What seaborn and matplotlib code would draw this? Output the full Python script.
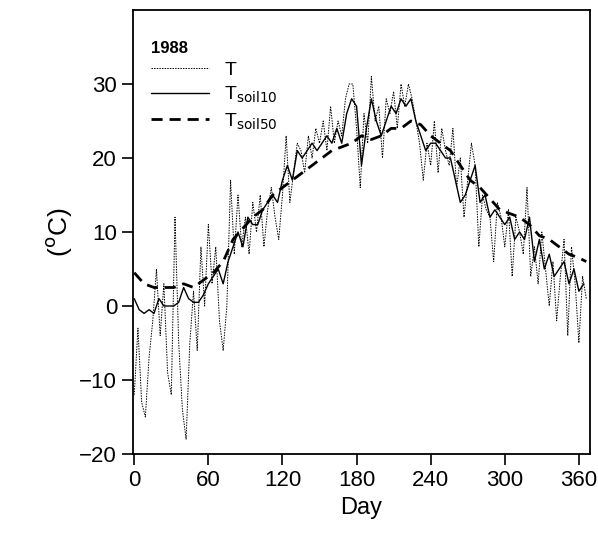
import numpy as np
import pandas as pd
import matplotlib
matplotlib.use('Agg')
import matplotlib.pyplot as plt
import seaborn as sns

# --- Data ---
day_air = list(range(0, 367, 3))
t_air = [-12, -3, -13, -15, -7, -2, 5, -4, 3, -9, -12, 12, -5, -14, -18, -5, 2, -6, 8, 0,
         11, 3, 8, -2, -6, 0, 17, 7, 15, 8, 12, 7, 14, 10, 15, 8, 13, 16, 12, 9,
         15, 23, 14, 18, 22, 21, 18, 23, 20, 24, 22, 25, 21, 27, 22, 25, 23, 28, 30, 30,
         24, 16, 26, 22, 31, 25, 27, 20, 28, 26, 29, 24, 30, 27, 30, 28, 25, 22, 17, 22,
         19, 25, 18, 24, 21, 19, 24, 16, 20, 12, 17, 22, 19, 8, 15, 13, 12, 6, 14, 12,
         8, 13, 4, 12, 10, 7, 16, 4, 8, 3, 10, 5, 0, 6, -2, 4, 9, -4, 8, 3,
         -5, 4, 1]

day_s10 = list(range(0, 365, 4))
t_soil10 = [1, -0.5, -1, -0.5, -1, 1, 0, 0, 0, 0.5, 2.5, 1, 0.5, 0.5, 1.5, 3, 4, 5, 3, 6,
            8, 10, 8, 12, 11, 11, 13, 14, 15, 14, 17, 19, 17, 21, 20, 21, 22, 21, 22, 23,
            22, 24, 22, 26, 28, 27, 19, 24, 28, 25, 23, 25, 27, 26, 28, 27, 28, 25, 23, 21,
            22, 22, 21, 20, 20, 17, 14, 15, 17, 19, 14, 15, 12, 13, 12, 11, 12, 9, 10, 9,
            12, 6, 9, 5, 7, 4, 5, 6, 3, 5, 2, 3]

day_s50 = list(range(0, 361, 8)) + [366]
t_soil50 = [4.5, 3, 2.5, 2.5, 2.5, 3, 2.5, 3.5, 4.5, 6, 9, 10.5, 12, 13, 15, 16, 17, 18, 19, 20,
            21, 21.5, 22, 23, 22.5, 23, 24, 24, 25, 24.5, 23, 22, 21, 19, 17, 16, 14.5, 13, 12.5, 12,
            11, 9.5, 9, 8, 7, 6.5, 6]

sns.set_style('ticks')
plt.rcParams['font.family'] = ['Liberation Sans', 'DejaVu Sans']
plt.rcParams['text.color'] = 'black'
plt.rcParams['axes.labelcolor'] = 'black'
plt.rcParams['xtick.color'] = 'black'
plt.rcParams['ytick.color'] = 'black'

fig = plt.figure(figsize=(5.98, 5.35), dpi=100)
ax = fig.add_axes([133 / 598, 81 / 535, 457 / 598, 444 / 535])

sns.lineplot(x=day_air, y=t_air, ax=ax, color='black', lw=0.7, linestyle=(0, (1.5, 1.2)), label='T')
sns.lineplot(x=day_s10, y=t_soil10, ax=ax, color='black', lw=1.0, label=r'T$_{\rm soil10}$')
sns.lineplot(x=day_s50, y=t_soil50, ax=ax, color='black', lw=2.0, linestyle=(0, (4, 2.5)),
             label=r'T$_{\rm soil50}$')

ax.set_xlim(-1, 369)
ax.set_ylim(-20, 40)
ax.set_xticks([0, 60, 120, 180, 240, 300, 360])
ax.set_yticks([-20, -10, 0, 10, 20, 30])
ax.tick_params(direction='out', length=8, width=1.2, labelsize=16)
for s in ax.spines.values():
    s.set_linewidth(1.3)
    s.set_color('black')
ax.set_xlabel('Day', fontsize=17)
ax.set_ylabel(r'($^{\rm o}$C)', fontsize=19)

leg = ax.legend(loc='upper left', bbox_to_anchor=(0.0, 0.97), frameon=False, title='1988',
                fontsize=14, handlelength=3.0, labelspacing=0.3, alignment='left')
leg.get_title().set_fontweight('bold')
leg.get_title().set_fontsize(12)

fig.savefig('out.png', dpi=100)
